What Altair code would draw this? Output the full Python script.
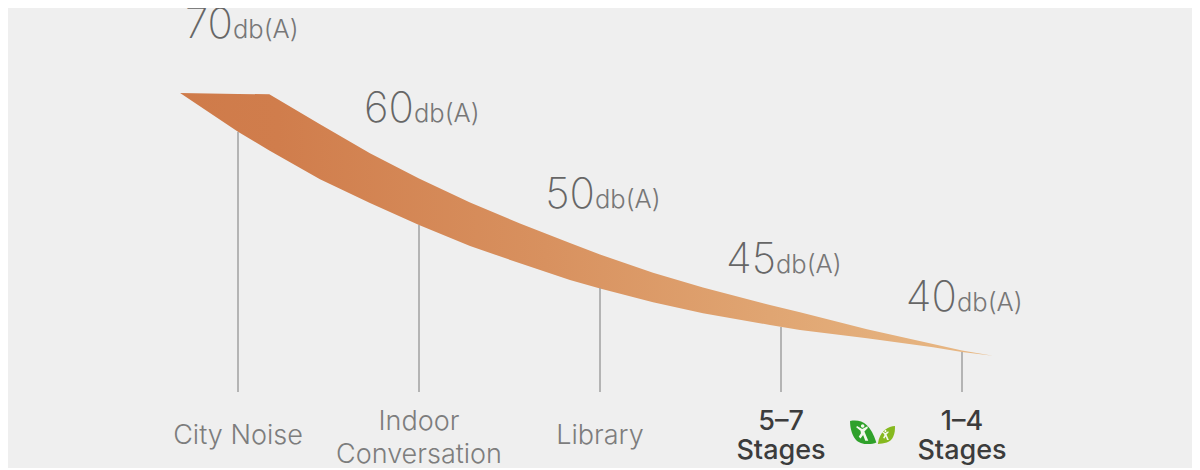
import altair as alt
import pandas as pd

# Categories and their noise levels, dB(A)
numbers = ["70", "60", "50", "45", "40"]
units = ["db(A)"] * 5
levels = [70, 60, 50, 45, 40]
stage_index = [0, 1, 2, 3, 4]
stem_floor = [30, 30, 30, 30, 30]
label_level = [80.07, 71.07, 61.83, 52.38, 47.05]
label_index = [-0.028, 0.972, 1.972, 2.972, 3.972]

# Band along the categories
band_index = [-0.320, 0, 0.173, 0.453, 0.729, 1, 1.282, 1.558, 1.834, 2, 2.293, 2.569, 2.939, 3.105, 3.475, 3.840, 4, 4.171]
band_upper = [74.18, 74.08, 74.04, 70.83, 67.71, 65.0, 62.42, 60.17, 57.14, 55.32, 52.41, 50.08, 47.82, 46.88, 44.54, 41.6, 40.3, 39.08]
band_lower = [74.18, 70.03, 68.01, 64.91, 62.37, 60, 56.67, 53.92, 51.27, 49.94, 48.18, 46.76, 45.26, 44.4, 42.74, 40.94, 40, 39.08]

# Category names, one row per text line
grey_text = ["City Noise", "Indoor", "Conversation", "Library"]
grey_index = [0, 1, 1, 2]
grey_level = [17, 20.5, 12.25, 17]
dark_text = ["5–7", "Stages", "1–4", "Stages"]
dark_index = [3, 3, 4, 4]
dark_level = [20.5, 13.25, 20.5, 13.25]

# Logo
big_leaf = {"i": [3.456], "v": [19.9]}
small_leaf = {"i": [3.58], "v": [19.25]}

x = alt.X("i:Q", axis=None, scale=alt.Scale(domain=[-1, 5], range=[49, 1135]))
y = alt.Y("v:Q", axis=None, scale=alt.Scale(
    domain=[10, 30, 40, 45, 50, 60, 70, 85],
    range=[464, 384, 344, 319, 280, 217, 124, -16]))
y2 = alt.Y2("v2:Q")

band = alt.Chart(pd.DataFrame({"i": band_index, "v": band_upper, "v2": band_lower})).mark_area(
    color=alt.Gradient(gradient="linear", x1=0, x2=1, y1=0, y2=0, stops=[
        alt.GradientStop(color="#cf7b4a", offset=0),
        alt.GradientStop(color="#d07d4c", offset=0.12),
        alt.GradientStop(color="#d8915f", offset=0.45),
        alt.GradientStop(color="#e8b985", offset=1),
    ]),
    interpolate="linear",
).encode(x=x, y=y, y2=y2)

stems = alt.Chart(pd.DataFrame({"i": stage_index, "v": levels, "v2": stem_floor})).mark_rule(
    color="#a0a0a0", strokeWidth=1.5
).encode(x=x, y=y, y2=y2)

FONT = "Inter"
labels = pd.DataFrame({"i": label_index, "v": label_level, "n": numbers, "u": units})
num = alt.Chart(labels).mark_text(
    font=FONT, fontWeight=200, fontSize=42, color="#666666", align="right", baseline="alphabetic"
).encode(x=x, y=y, text="n:N")
unit = alt.Chart(labels).mark_text(
    font=FONT, fontWeight=300, fontSize=25.5, color="#777777", align="left", baseline="alphabetic"
).encode(x=x, y=y, text="u:N")

grey = alt.Chart(pd.DataFrame({"i": grey_index, "v": grey_level, "t": grey_text})).mark_text(
    font=FONT, fontWeight=300, fontSize=27, color="#7d7d7d", align="center", baseline="alphabetic"
).encode(x=x, y=y, text="t:N")
dark = alt.Chart(pd.DataFrame({"i": dark_index, "v": dark_level, "t": dark_text})).mark_text(
    font=FONT, fontWeight=500, fontSize=27, color="#3c3c3c", align="center", baseline="alphabetic"
).encode(x=x, y=y, text="t:N")

big_leaf_path = "M-1,-.85 C-.2,-1 .5,-.7 .95,.75 C.5,.95 -.3,.9 -.6,.5 C-.9,.1 -1,-.4 -1,-.85Z"
small_leaf_path = "M1,-1 C.3,-1 -.7,-.5 -.9,1 C-.3,1 .6,.8 .8,.2 C1,-.2 1,-.6 1,-1Z"
figure_path = ("M-.1,-.95 A.2,.2 0 1,1 -.1,-.55 A.2,.2 0 1,1 -.1,-.95Z "
               "M-.75,-.75 L-.15,-.4 L.45,-.7 L.5,-.5 L.1,-.1 L.55,.95 L.2,.95 L-.05,.3 L-.35,.7 L-.55,.5 L-.3,.1 L-.35,-.2 L-.85,-.6Z")


def glyph(row, path, colour, size):
    return alt.Chart(pd.DataFrame(row)).mark_point(
        shape=path, filled=True, opacity=1, strokeWidth=0, color=colour, size=size
    ).encode(x=x, y=y)


logo = (glyph(big_leaf, big_leaf_path, "#2fa12b", 729)
        + glyph(small_leaf, small_leaf_path, "#86b91f", 324)
        + glyph(big_leaf, figure_path, "#f4f8ee", 300)
        + glyph(small_leaf, figure_path, "#f4f8ee", 110))

chart = (band + stems + num + unit + grey + dark + logo).properties(
    width=1184, height=460, background="#efefef", padding=0,
    autosize=alt.AutoSizeParams(type="none"),
).configure_view(stroke=None)

chart.save("out.html", embed_options={"renderer": "svg", "actions": False})
